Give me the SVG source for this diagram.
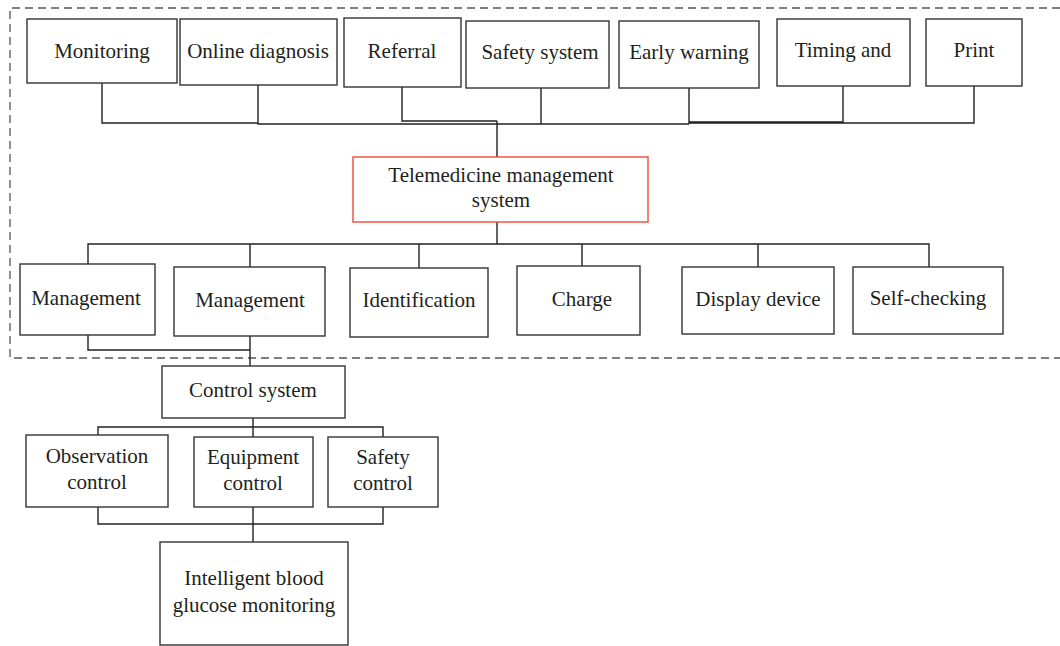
<svg xmlns="http://www.w3.org/2000/svg" width="1060" height="646" viewBox="0 0 1060 646">
<style>
.box{fill:#fff;stroke:#333;stroke-width:1.4}
.red{fill:#fff;stroke:#ee4a36;stroke-width:1.4}
.t{font-family:"Liberation Serif",serif;font-size:21px;fill:#231f20;text-anchor:middle}
.c{fill:none;stroke:#222;stroke-width:1.4}
.dash{fill:none;stroke:#555;stroke-width:1.3;stroke-dasharray:8 5}
</style>
<rect width="1060" height="646" fill="#fff"/>
<path class="dash" d="M1060 8 H10 V358 H1060"/>
<g id="connectors">
<path class="c" d="M102 83 V123 H258 M258 85 V124 H689 M402 87 V121 H497 M541 88 V124 M689 88 V124 M689 122 H843 V86 M689 123 H974 V86"/>
<path class="c" d="M497 121 V157" stroke-width="2"/>
<path class="c" d="M497 222 V244" stroke-width="2"/>
<path class="c" d="M88 264 V244 H929 V267 M250 244 V267 M419 244 V268 M582 244 V266 M758 244 V267"/>
<path class="c" d="M88 335 V350 H250 M250 336 V366"/>
<path class="c" d="M253 418 V427 M98 435 V427 H383 V437 M253 427 V437"/>
<path class="c" d="M98 507 V524 H383 V507 M253 507 V542"/>
</g>
<g id="n-monitoring"><rect class="box" x="27" y="19" width="150" height="64"/><text class="t" x="102" y="58">Monitoring</text></g>
<g id="n-online"><rect class="box" x="180" y="19" width="157" height="66"/><text class="t" x="258" y="58">Online diagnosis</text></g>
<g id="n-referral"><rect class="box" x="344" y="18" width="117" height="69"/><text class="t" x="402" y="58">Referral</text></g>
<g id="n-safety"><rect class="box" x="466" y="21" width="143" height="67"/><text class="t" x="540" y="59">Safety system</text></g>
<g id="n-early"><rect class="box" x="619" y="21" width="140" height="67"/><text class="t" x="689" y="59">Early warning</text></g>
<g id="n-timing"><rect class="box" x="777" y="19" width="133" height="67"/><text class="t" x="843" y="57">Timing and</text></g>
<g id="n-print"><rect class="box" x="926" y="19" width="96" height="67"/><text class="t" x="974" y="57">Print</text></g>
<g id="n-tele"><rect class="red" x="353" y="157" width="295" height="65"/><text class="t" x="501" y="182">Telemedicine management</text><text class="t" x="501" y="207">system</text></g>
<g id="n-mgmt1"><rect class="box" x="20" y="264" width="135" height="71"/><text class="t" x="86" y="305">Management</text></g>
<g id="n-mgmt2"><rect class="box" x="174" y="267" width="151" height="69"/><text class="t" x="250" y="307">Management</text></g>
<g id="n-ident"><rect class="box" x="350" y="268" width="138" height="69"/><text class="t" x="419" y="307">Identification</text></g>
<g id="n-charge"><rect class="box" x="517" y="266" width="123" height="69"/><text class="t" x="582" y="306">Charge</text></g>
<g id="n-display"><rect class="box" x="682" y="267" width="152" height="67"/><text class="t" x="758" y="306">Display device</text></g>
<g id="n-self"><rect class="box" x="853" y="267" width="150" height="67"/><text class="t" x="928" y="305">Self-checking</text></g>
<g id="n-control"><rect class="box" x="162" y="366" width="183" height="52"/><text class="t" x="253" y="397">Control system</text></g>
<g id="n-obs"><rect class="box" x="26" y="435" width="142" height="72"/><text class="t" x="97" y="463">Observation</text><text class="t" x="97" y="489">control</text></g>
<g id="n-equip"><rect class="box" x="194" y="437" width="119" height="70"/><text class="t" x="253" y="464">Equipment</text><text class="t" x="253" y="490">control</text></g>
<g id="n-safetyc"><rect class="box" x="328" y="437" width="110" height="70"/><text class="t" x="383" y="464">Safety</text><text class="t" x="383" y="490">control</text></g>
<g id="n-intel"><rect class="box" x="160" y="542" width="188" height="103"/><text class="t" x="254" y="585">Intelligent blood</text><text class="t" x="254" y="612">glucose monitoring</text></g>
</svg>
